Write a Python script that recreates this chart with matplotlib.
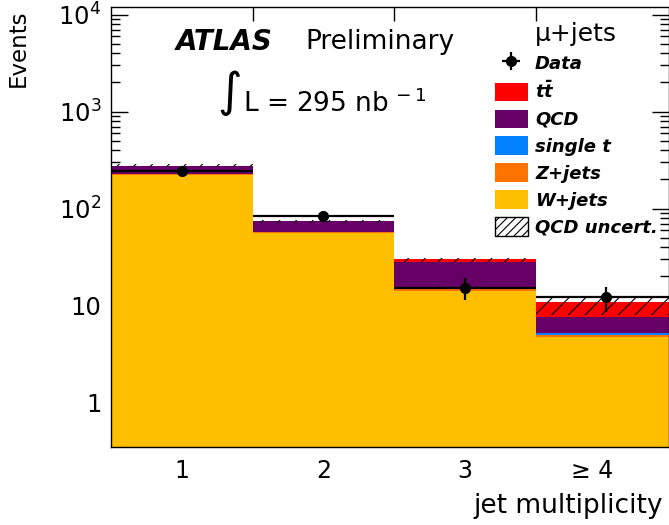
import numpy as np
import matplotlib
matplotlib.use("Agg")
import matplotlib.pyplot as plt
from matplotlib.patches import Patch
from matplotlib.ticker import LogLocator, NullFormatter, FixedLocator

plt.rcParams['font.family'] = ['DejaVu Sans']

# jet multiplicity bins
bins = [1, 2, 3, 4]
bin_labels = ['1', '2', '3', '\u2265 4']

# stacked backgrounds (bottom to top)
w_jets = [222, 56, 14.3, 4.8]
z_jets = [3.5, 1.5, 0.5, 0.2]
single_t = [0.6, 0.3, 0.3, 0.2]
qcd = [50, 16.5, 13.0, 2.5]
ttbar = [1.0, 0.8, 2.1, 3.3]

# QCD uncertainty band (low, high)
unc_lo = [266, 72, 28.3, 8.0]
unc_hi = [287, 76.5, 31.0, 12.0]

# data
data = [246, 85, 15.3, 12.2]
data_err = [15.7, 9.2, 3.9, 3.5]

colors = {
    'W+jets': '#FFBF00',
    'Z+jets': '#FF7300',
    'single t': '#0080FF',
    'QCD': '#660066',
    'tt': '#FF0000',
}

fig = plt.figure(figsize=(6.69, 5.25), dpi=100)
ax = fig.add_axes([111 / 669, 78 / 525, 558 / 669, 440 / 525])

stack = [('W+jets', w_jets), ('Z+jets', z_jets), ('single t', single_t),
         ('QCD', qcd), ('tt', ttbar)]
bottom = np.zeros(len(bins))
for name, vals in stack:
    ax.bar(bins, vals, width=1.0, bottom=bottom, color=colors[name],
           linewidth=0, zorder=2)
    bottom = bottom + np.array(vals)

# QCD uncertainty hatch
lo = np.array(unc_lo)
hi = np.array(unc_hi)
plt.rcParams['hatch.linewidth'] = 0.8
ax.bar(bins, hi - lo, width=1.0, bottom=lo, fill=False, hatch='//',
       edgecolor='black', linewidth=0, zorder=3)

# data points
eb = ax.errorbar(bins, data, yerr=data_err, xerr=0.5, fmt='o', color='black',
                 markersize=7, elinewidth=1.6, capsize=0, zorder=5)

ax.set_yscale('log')
ax.set_ylim(0.349, 12000)
ax.set_xlim(0.5, 4.443)

# ticks
ax.xaxis.set_major_locator(FixedLocator([1.5, 2.5, 3.5]))
ax.xaxis.set_major_formatter(NullFormatter())
ax.set_xticks([1, 2, 3, 3.9], bin_labels, minor=True)
ax.tick_params(axis='x', which='major', direction='in', length=10, width=1,
               top=True, bottom=True)
ax.tick_params(axis='x', which='minor', length=0, labelsize=17, pad=9)

ax.yaxis.set_minor_locator(LogLocator(base=10, subs=np.arange(2, 10), numticks=20))
ax.yaxis.set_minor_formatter(NullFormatter())
ax.set_yticks([1, 10, 100, 1000, 10000],
              ['1', '10', r'$10^{2}$', r'$10^{3}$', r'$10^{4}$'])
ax.tick_params(axis='y', which='major', direction='in', length=12, width=1,
               left=True, right=True, labelsize=17.5, pad=7)
ax.tick_params(axis='y', which='minor', direction='in', length=6.5, width=1,
               left=True, right=True)

for s in ax.spines.values():
    s.set_linewidth(1)
    s.set_zorder(6)

ax.set_ylabel('Events', fontsize=16.5, loc='top')
ax.yaxis.set_label_coords(-0.145, 0.995)
ax.set_xlabel('jet multiplicity', fontsize=19, loc='right')
ax.xaxis.set_label_coords(0.989, -0.105)

# ATLAS label and luminosity
ax.text(0.1165, 0.921, 'ATLAS', transform=ax.transAxes, fontsize=20,
        fontweight='bold', fontstyle='italic', va='center', ha='left')
ax.text(0.348, 0.921, 'Preliminary', transform=ax.transAxes, fontsize=19,
        va='center', ha='left')
ax.text(0.190, 0.805, '\u222b', transform=ax.transAxes, fontsize=34,
        va='center', ha='left')
ax.text(0.2366, 0.761, r'L = 295 nb$^{\,-1}$', transform=ax.transAxes,
        fontsize=19, va='baseline', ha='left')

# legend
handles = [
    eb,
    Patch(facecolor=colors['tt'], linewidth=0),
    Patch(facecolor=colors['QCD'], linewidth=0),
    Patch(facecolor=colors['single t'], linewidth=0),
    Patch(facecolor=colors['Z+jets'], linewidth=0),
    Patch(facecolor=colors['W+jets'], linewidth=0),
    Patch(facecolor='white', edgecolor='black', hatch='////', linewidth=1),
]
labels = ['Data', r'$\mathbfit{t\bar{t}}$', 'QCD', 'single t', 'Z+jets',
          'W+jets', 'QCD uncert.']
leg = ax.legend(handles, labels, loc='upper left', bbox_to_anchor=(0.688, 0.966),
                frameon=False, borderpad=0, borderaxespad=0,
                prop={'size': 13, 'weight': 'bold', 'style': 'italic'},
                title='\u03bc+jets', title_fontproperties={'size': 18},
                handlelength=1.83, handleheight=1.2, handletextpad=0.39,
                labelspacing=0.42)
leg.set_zorder(7)

fig.savefig('out.png', dpi=100)
